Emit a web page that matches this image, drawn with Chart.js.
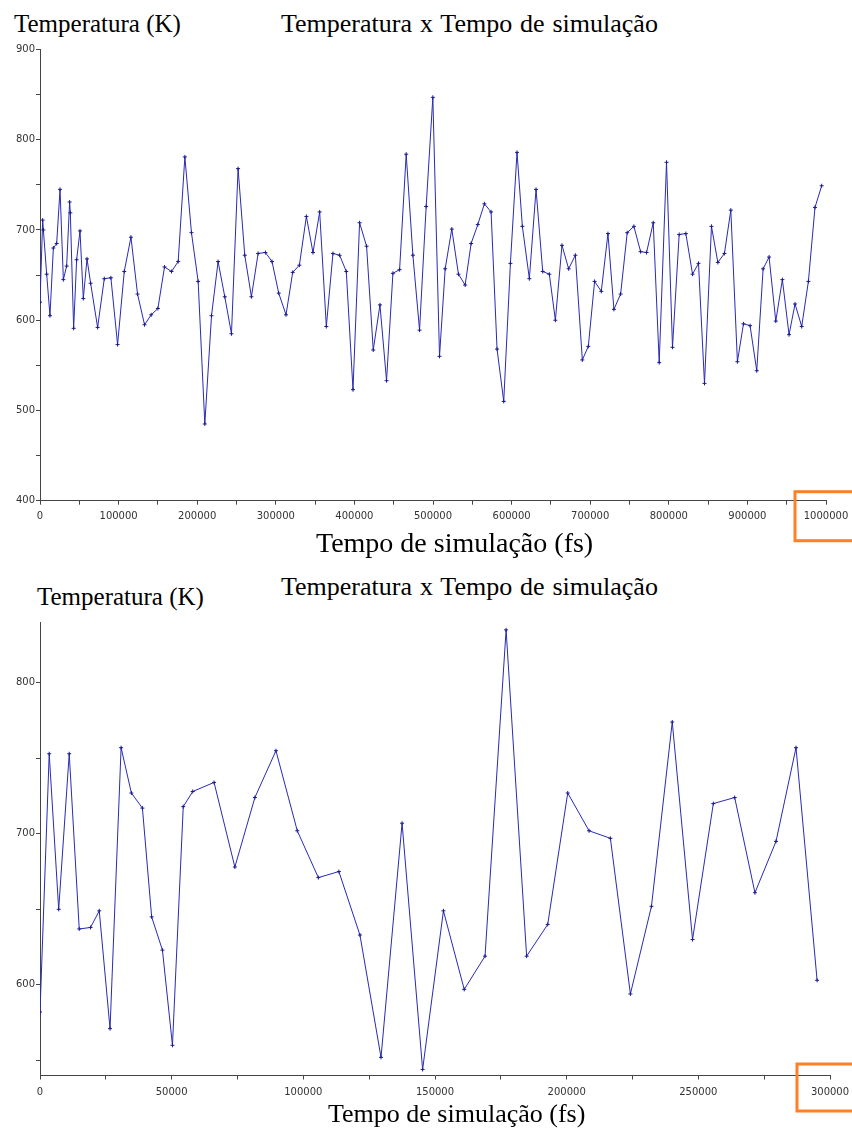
<!DOCTYPE html>
<html>
<head>
<meta charset="utf-8">
<script src="https://cdn.jsdelivr.net/npm/chart.js@4.4.0/dist/chart.umd.min.js"></script>
<style>
  body { margin: 0; background: #fff; }
  #page { position: relative; width: 852px; height: 1133px; overflow: hidden; }
  canvas { position: absolute; left: 0; }
  .txt { position: absolute; font-family: 'Liberation Serif', 'Times New Roman', serif;
         font-size: 25px; line-height: 25px; color: #000; white-space: nowrap; }
  .ttl { font-size: 26px; line-height: 26px; word-spacing: 1.4px; }
</style>
</head>
<body>
<div id="page">
  <div class="txt" style="left:14px; top:11px;">Temperatura (K)</div>
  <div class="txt ttl" style="left:281px; top:11px;">Temperatura x Tempo de simulação</div>
  <canvas id="chartTop" style="top:0px;"></canvas>
  <div class="txt" style="left:316px; top:529px; font-size:28px; line-height:28px;">Tempo de simulação (fs)</div>

  <div class="txt" style="left:37px; top:584px;">Temperatura (K)</div>
  <div class="txt ttl" style="left:281px; top:574px;">Temperatura x Tempo de simulação</div>
  <canvas id="chartBottom" style="top:560px;"></canvas>
  <div class="txt" style="left:328px; top:1101px; font-size:26px; line-height:26px;">Tempo de simulação (fs)</div>
</div>
<script>
// top run: 0 - 1 000 000 fs
const topTime = [0, 3400, 4300, 8500, 12700, 17000, 21200, 25500, 29700, 33900,
  37700, 38600, 42800, 46600, 50900, 55100, 59800, 64400, 73300, 81800,
  90200, 98700, 107200, 115700, 124100, 133000, 141500, 150000, 158400, 167300,
  175800, 184300, 192700, 201200, 209700, 218200, 226600, 235100, 243600, 252000,
  260500, 269000, 277500, 286800, 295200, 303700, 313000, 321500, 330000, 338900,
  347300, 355800, 364300, 372700, 381200, 389700, 398200, 406600, 415500, 424000,
  432500, 440900, 449000, 457500, 465900, 474400, 482900, 491300, 499800, 508300,
  515500, 523900, 532400, 540900, 548500, 557000, 565400, 573900, 581500, 590000,
  598500, 606900, 613700, 622600, 631100, 639600, 648000, 655700, 664100, 672600,
  681100, 690000, 697600, 705600, 714100, 722600, 730200, 738700, 747100, 755600,
  764100, 771700, 780200, 787800, 797100, 804700, 813200, 821700, 830200, 837800,
  845400, 854300, 862400, 870800, 878900, 887300, 895000, 903400, 911900, 920000,
  927600, 936100, 944500, 953000, 960600, 969100, 977600, 986000, 994500];
const topTemp = [620, 711, 700, 651, 605, 680, 685, 745, 645, 660,
  731, 719, 591, 667, 699, 624, 668, 641, 592, 646,
  647, 573, 654, 692, 629, 595, 606, 613, 659, 654,
  665, 781, 697, 643, 485, 605, 665, 626, 585, 768,
  672, 626, 674, 675, 665, 630, 606, 653, 661, 715,
  675, 720, 593, 674, 672, 654, 523, 708, 682, 567,
  617, 533, 652, 656, 784, 672, 589, 726, 847, 560,
  657, 701, 651, 639, 685, 706, 729, 720, 568, 510,
  663, 786, 704, 646, 745, 654, 651, 600, 683, 657,
  672, 556, 571, 643, 632, 696, 612, 629, 697, 704,
  676, 675, 708, 553, 775, 570, 695, 696, 651, 663,
  530, 704, 664, 674, 722, 554, 596, 594, 544, 657,
  670, 599, 645, 584, 618, 593, 643, 725, 749];
const topYTicks = [400, 450, 500, 550, 600, 650, 700, 750, 800, 850, 900];

// bottom run: 0 - 300 000 fs
const bottomTime = [0, 3500, 7100, 11100, 14900, 19200, 22500, 26600, 30800, 34700,
  38900, 42400, 46500, 50300, 54400, 58000, 66100, 74000, 81600, 89600,
  97700, 105700, 113500, 121500, 129500, 137500, 145300, 153200, 161100, 169000,
  177000, 184800, 192800, 200400, 208500, 216600, 224200, 232200, 240100, 247800,
  255700, 263800, 271500, 279500, 287100, 295100];
const bottomTemp = [582, 753, 650, 753, 637, 638, 649, 571, 757, 727,
  717, 645, 623, 560, 718, 728, 734, 678, 724, 755,
  702, 671, 675, 633, 552, 707, 544, 649, 597, 619,
  835, 619, 640, 727, 702, 697, 594, 652, 774, 630,
  720, 724, 661, 695, 757, 603];
const bottomYTicks = [550, 600, 650, 700, 750, 800];

const lineColor = '#2a2ab4';
const pointColor = '#1a1a8c';
const tickFont = { family: 'DejaVu Sans', size: 10 };

// orange frame round the last x label
const markLast = {
  id: 'markLast',
  afterDraw(chart, args, opts) {
    const sx = chart.scales.x;
    const px = sx.getPixelForValue(sx.max);
    const ctx = chart.ctx;
    ctx.save();
    ctx.strokeStyle = '#ff7f27';
    ctx.lineWidth = 3;
    ctx.strokeRect(px - opts.dx, sx.top - opts.dy, 90, opts.h);
    ctx.restore();
  }
};

function makeChart(id, w, h, times, temps, cfg) {
  const canvas = document.getElementById(id);
  canvas.width = w;
  canvas.height = h;
  canvas.style.width = w + 'px';
  canvas.style.height = h + 'px';
  return new Chart(canvas.getContext('2d'), {
    type: 'line',
    data: {
      datasets: [{
        data: times.map((t, i) => ({ x: t, y: temps[i] })),
        borderColor: lineColor,
        borderWidth: 1,
        pointStyle: 'cross',
        pointRadius: 2,
        pointBorderWidth: 1,
        pointBorderColor: pointColor,
        tension: 0
      }]
    },
    options: {
      responsive: false,
      animation: false,
      layout: { padding: cfg.padding },
      plugins: {
        legend: { display: false },
        tooltip: { enabled: false },
        markLast: cfg.mark
      },
      scales: {
        x: {
          type: 'linear',
          min: cfg.xMin, max: cfg.xMax,
          grid: { drawOnChartArea: false, tickLength: 4, color: '#444' },
          border: { color: '#444' },
          ticks: {
            stepSize: cfg.xStep,
            autoSkip: false,
            maxRotation: 0,
            padding: cfg.xPad,
            color: '#333',
            font: tickFont,
            callback: v => (v % cfg.xLabelEvery === 0 ? String(v) : '')
          },
          afterFit: s => { s.height = 30; s.paddingLeft = 0; s.paddingRight = 0; }
        },
        y: {
          min: cfg.yMin, max: cfg.yMax,
          grid: { drawOnChartArea: false, tickLength: 4, color: '#444' },
          border: { color: '#444' },
          ticks: {
            padding: 1,
            color: '#333',
            font: tickFont,
            callback: v => (v % 100 === 0 ? String(v) : '')
          },
          afterBuildTicks: s => { s.ticks = cfg.yTicks.map(v => ({ value: v })); },
          afterFit: s => { s.width = 40; s.paddingTop = 0; s.paddingBottom = 0; }
        }
      }
    },
    plugins: [markLast]
  });
}

makeChart('chartTop', 852, 545, topTime, topTemp, {
  padding: { top: 49.5, right: 26, bottom: 14.3, left: 0 },
  xMin: 0, xMax: 1000000, xStep: 50000, xLabelEvery: 100000, xPad: 6,
  yMin: 400, yMax: 900, yTicks: topYTicks,
  mark: { dx: 31, dy: 9, h: 49 }
});

makeChart('chartBottom', 852, 573, bottomTime, bottomTemp, {
  padding: { top: 62.3, right: 22, bottom: 27.5, left: 0 },
  xMin: 0, xMax: 300000, xStep: 25000, xLabelEvery: 50000, xPad: 7,
  yMin: 540, yMax: 840, yTicks: bottomYTicks,
  mark: { dx: 33, dy: 11.5, h: 47 }
});
</script>
</body>
</html>
